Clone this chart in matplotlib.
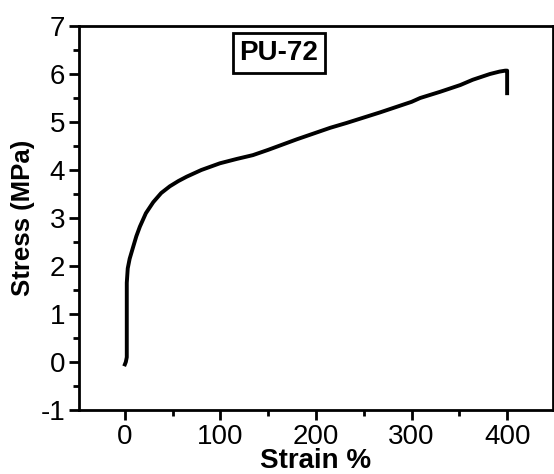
import matplotlib
matplotlib.use("Agg")
import matplotlib.pyplot as plt
from matplotlib.ticker import MultipleLocator

plt.rcParams['font.family'] = ['Liberation Sans', 'DejaVu Sans']
plt.rcParams['axes.unicode_minus'] = False

strain = [0, 1, 2, 2, 3, 5, 8.7, 12, 15.7, 22, 29.7, 38, 47, 56, 64.6, 80, 99.5, 117, 134, 150,
          180, 215, 232, 267, 300, 309, 330, 351, 364, 382, 392, 398, 400, 400]
stress = [-0.05, 0.0, 0.1, 1.65, 1.95, 2.15, 2.4, 2.62, 2.82, 3.1, 3.33, 3.52, 3.66, 3.77, 3.86, 4.0, 4.14, 4.23, 4.31, 4.42,
          4.64, 4.88, 4.98, 5.2, 5.42, 5.5, 5.63, 5.77, 5.88, 6.0, 6.05, 6.07, 6.07, 5.6]

label_text = "PU-72"

fig = plt.figure(figsize=(5.54, 4.74), dpi=100)
ax = fig.add_axes([79/554, 1-410/474, (553-79)/554, (410-26)/474])
ax.plot(strain, stress, color='black', lw=2.8, solid_joinstyle='round')
ax.set_xlim(-48, 448)
ax.set_ylim(-1, 7)
ax.xaxis.set_major_locator(MultipleLocator(100))
ax.xaxis.set_minor_locator(MultipleLocator(50))
ax.yaxis.set_major_locator(MultipleLocator(1))
ax.yaxis.set_minor_locator(MultipleLocator(0.5))
ax.tick_params(which='major', direction='out', length=7, width=2, labelsize=20, pad=3)
ax.tick_params(which='minor', direction='out', length=4, width=2)
ax.tick_params(top=False, right=False)
for s in ax.spines.values():
    s.set_linewidth(2)
ax.set_xlabel("Strain %", fontsize=20, fontweight='bold', labelpad=-1)
ax.set_ylabel("Stress (MPa)", fontsize=18.5, fontweight='bold', labelpad=4)
ax.text(0.422, 0.93, label_text, transform=ax.transAxes, fontsize=20, fontweight='bold',
        ha='center', va='center',
        bbox=dict(boxstyle='square,pad=0.25', fc='white', ec='black', lw=2))
fig.savefig("out.png", dpi=100)
